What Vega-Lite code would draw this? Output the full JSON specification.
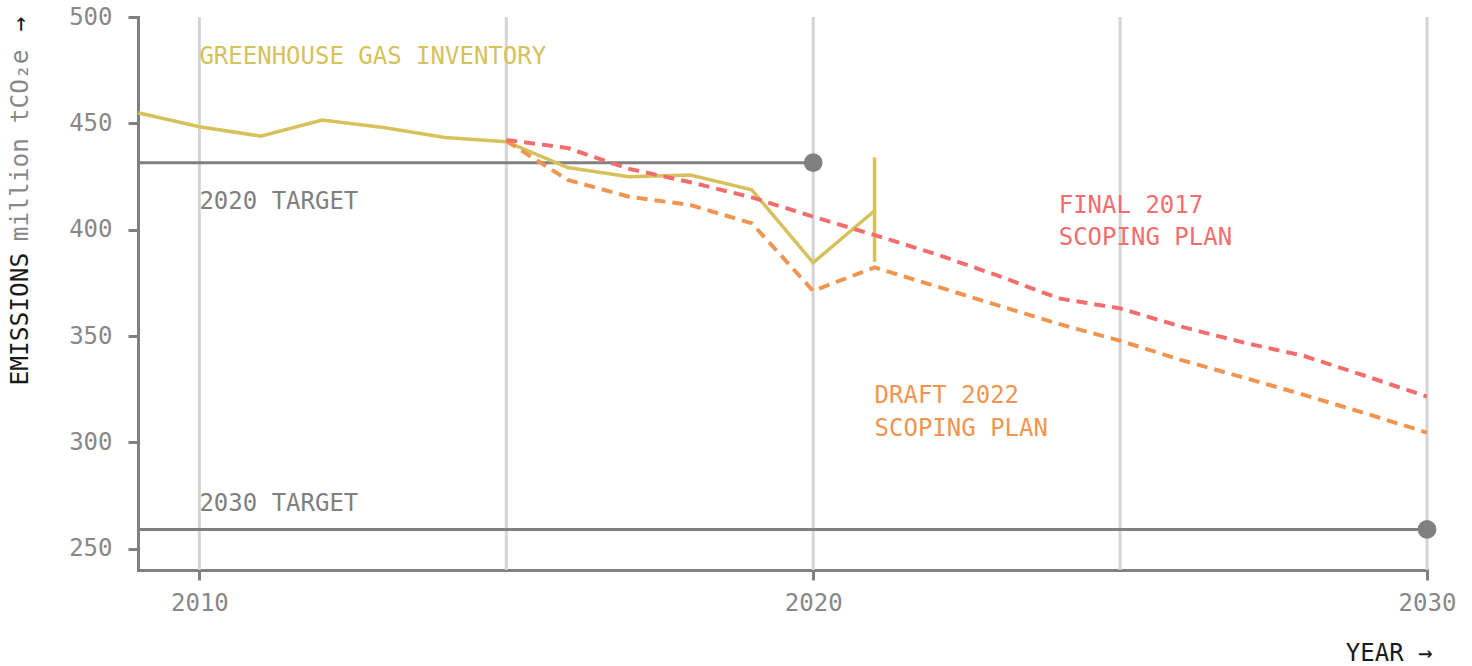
{
  "$schema": "https://vega.github.io/schema/vega-lite/v6.json",
  "width": 1289,
  "height": 553,
  "autosize": "none",
  "padding": {"left": 138, "top": 17, "right": 45, "bottom": 96},
  "background": "white",
  "config": {
    "view": {"stroke": null},
    "font": "DejaVu Sans Mono",
    "axis": {"labelFont": "DejaVu Sans Mono", "titleFont": "DejaVu Sans Mono"}
  },
  "datasets": {
    "grid": [
      {"year": 2010}, {"year": 2015}, {"year": 2020}, {"year": 2025}, {"year": 2030}
    ],
    "inventory": [
      {"year": 2009, "value": 455.0}, {"year": 2010, "value": 448.4}, {"year": 2011, "value": 444.0},
      {"year": 2012, "value": 451.6}, {"year": 2013, "value": 448.0}, {"year": 2014, "value": 443.3},
      {"year": 2015, "value": 441.4}, {"year": 2016, "value": 429.2}, {"year": 2017, "value": 424.9},
      {"year": 2018, "value": 425.7}, {"year": 2019, "value": 418.7}, {"year": 2020, "value": 384.5},
      {"year": 2021, "value": 408.9}
    ],
    "final2017": [
      {"year": 2015, "value": 442.2}, {"year": 2016, "value": 438.4}, {"year": 2017, "value": 428.6},
      {"year": 2018, "value": 422.3}, {"year": 2019, "value": 415.2}, {"year": 2020, "value": 406.1},
      {"year": 2021, "value": 397.5}, {"year": 2022, "value": 388.5}, {"year": 2023, "value": 378.5},
      {"year": 2024, "value": 367.7}, {"year": 2025, "value": 363.0}, {"year": 2026, "value": 354.4},
      {"year": 2027, "value": 347.0}, {"year": 2028, "value": 340.6}, {"year": 2029, "value": 331.2},
      {"year": 2030, "value": 321.5}
    ],
    "draft2022": [
      {"year": 2015, "value": 441.7}, {"year": 2016, "value": 423.4}, {"year": 2017, "value": 415.5},
      {"year": 2018, "value": 411.6}, {"year": 2019, "value": 403.0}, {"year": 2020, "value": 371.2},
      {"year": 2021, "value": 382.3}, {"year": 2022, "value": 373.4}, {"year": 2023, "value": 364.5},
      {"year": 2024, "value": 355.7}, {"year": 2025, "value": 347.8}, {"year": 2026, "value": 338.7},
      {"year": 2027, "value": 330.6}, {"year": 2028, "value": 322.3}, {"year": 2029, "value": 313.6},
      {"year": 2030, "value": 304.6}
    ],
    "targets": [
      {"name": "2020 target", "year": 2009, "value": 431.5},
      {"name": "2020 target", "year": 2020, "value": 431.5},
      {"name": "2030 target", "year": 2009, "value": 259.1},
      {"name": "2030 target", "year": 2030, "value": 259.1}
    ],
    "targetPoints": [
      {"name": "2020 target", "year": 2020, "value": 431.5},
      {"name": "2030 target", "year": 2030, "value": 259.1}
    ],
    "range": [
      {"year": 2021, "low": 384.9, "high": 434.0}
    ],
    "labels": [
      {"label": "GREENHOUSE GAS INVENTORY", "series": "inventory", "year": 2010, "value": 481.1},
      {"label": "2020 TARGET", "series": "target", "year": 2010, "value": 413.2},
      {"label": "2030 TARGET", "series": "target", "year": 2010, "value": 271.1},
      {"label": "FINAL 2017", "series": "final2017", "year": 2024, "value": 411.3},
      {"label": "SCOPING PLAN", "series": "final2017", "year": 2024, "value": 396.1},
      {"label": "DRAFT 2022", "series": "draft2022", "year": 2021, "value": 322.0},
      {"label": "SCOPING PLAN", "series": "draft2022", "year": 2021, "value": 306.1}
    ]
  },
  "resolve": {"axis": {"y": "independent"}},
  "layer": [
    {
      "data": {"name": "grid"},
      "mark": {"type": "rule", "color": "#d4d4d4", "strokeWidth": 3},
      "encoding": {
        "x": {
          "field": "year", "type": "quantitative",
          "scale": {"domain": [2009, 2030], "nice": false, "zero": false},
          "axis": {
            "values": [2010, 2020, 2030],
            "format": "d",
            "grid": false,
            "ticks": true, "tickSize": 10, "tickWidth": 3, "tickColor": "#808080",
            "domainColor": "#808080", "domainWidth": 3, "domainCap": "square",
            "labelColor": "#888888", "labelFontSize": 24, "labelPadding": 11,
            "labelFlush": false, "labelOverlap": false,
            "title": "YEAR →", "titleColor": "#1a1a1a", "titleFontSize": 24, "titleFontWeight": "normal",
            "titleX": 1294, "titleY": 83, "titleAlign": "right", "titleBaseline": "middle", "titleAnchor": "end"
          }
        }
      }
    },
    {
      "data": {"name": "targets"},
      "mark": {"type": "line", "color": "#808080", "strokeWidth": 3},
      "encoding": {
        "detail": {"field": "name"},
        "x": {"field": "year", "type": "quantitative", "scale": {"domain": [2009, 2030], "nice": false, "zero": false}},
        "y": {
          "field": "value", "type": "quantitative",
          "scale": {"domain": [240, 500], "nice": false, "zero": false},
          "axis": {
            "orient": "left",
            "values": [250, 300, 350, 400, 450, 500],
            "grid": false,
            "tickSize": 10, "tickWidth": 3, "tickColor": "#808080",
            "domainColor": "#808080", "domainWidth": 3, "domainCap": "square",
            "labelColor": "#888888", "labelFontSize": 24, "labelPadding": 16,
            "title": "EMISSIONS\u00a0\u00a0\u00a0\u00a0\u00a0\u00a0\u00a0\u00a0\u00a0\u00a0\u00a0\u00a0\u00a0\u00a0\u00a0→",
            "titleColor": "#1a1a1a", "titleFontSize": 24.5, "titleFontWeight": "normal",
            "titleAngle": 270, "titleAlign": "left", "titleBaseline": "middle",
            "titleX": -118, "titleY": 368
          }
        }
      }
    },
    {
      "data": {"name": "inventory"},
      "mark": {"type": "line", "color": "#d6c15a", "strokeWidth": 3.5},
      "encoding": {
        "x": {"field": "year", "type": "quantitative", "scale": {"domain": [2009, 2030], "nice": false, "zero": false}},
        "y": {
          "field": "value", "type": "quantitative",
          "scale": {"domain": [240, 500], "nice": false, "zero": false},
          "axis": {
            "orient": "left",
            "domain": false, "ticks": false, "labels": false, "grid": false,
            "title": "million tCO₂e",
            "titleColor": "#888888", "titleFontSize": 24.5, "titleFontWeight": "normal",
            "titleAngle": 270, "titleAlign": "right", "titleBaseline": "middle",
            "titleX": -118, "titleY": 32
          }
        }
      }
    },
    {
      "data": {"name": "range"},
      "mark": {"type": "rule", "color": "#d6c15a", "strokeWidth": 3.5},
      "encoding": {
        "x": {"field": "year", "type": "quantitative", "scale": {"domain": [2009, 2030], "nice": false, "zero": false}},
        "y": {"field": "low", "type": "quantitative", "scale": {"domain": [240, 500], "nice": false, "zero": false}, "axis": null},
        "y2": {"field": "high"}
      }
    },
    {
      "data": {"name": "draft2022"},
      "mark": {"type": "line", "color": "#f0954f", "strokeWidth": 4, "strokeDash": [11, 7]},
      "encoding": {
        "x": {"field": "year", "type": "quantitative", "scale": {"domain": [2009, 2030], "nice": false, "zero": false}},
        "y": {"field": "value", "type": "quantitative", "scale": {"domain": [240, 500], "nice": false, "zero": false}, "axis": null}
      }
    },
    {
      "data": {"name": "final2017"},
      "mark": {"type": "line", "color": "#f26e6e", "strokeWidth": 4, "strokeDash": [11, 7]},
      "encoding": {
        "x": {"field": "year", "type": "quantitative", "scale": {"domain": [2009, 2030], "nice": false, "zero": false}},
        "y": {"field": "value", "type": "quantitative", "scale": {"domain": [240, 500], "nice": false, "zero": false}, "axis": null}
      }
    },
    {
      "data": {"name": "targetPoints"},
      "mark": {"type": "point", "filled": true, "color": "#808080", "opacity": 1, "size": 350},
      "encoding": {
        "x": {"field": "year", "type": "quantitative", "scale": {"domain": [2009, 2030], "nice": false, "zero": false}},
        "y": {"field": "value", "type": "quantitative", "scale": {"domain": [240, 500], "nice": false, "zero": false}, "axis": null}
      }
    },
    {
      "data": {"name": "labels"},
      "mark": {"type": "text", "font": "DejaVu Sans Mono", "fontSize": 24, "align": "left", "baseline": "middle"},
      "encoding": {
        "x": {"field": "year", "type": "quantitative", "scale": {"domain": [2009, 2030], "nice": false, "zero": false}},
        "y": {"field": "value", "type": "quantitative", "scale": {"domain": [240, 500], "nice": false, "zero": false}, "axis": null},
        "text": {"field": "label"},
        "color": {
          "field": "series", "type": "nominal", "legend": null,
          "scale": {"domain": ["inventory", "final2017", "draft2022", "target"], "range": ["#d6c15a", "#f26e6e", "#f0954f", "#808080"]}
        }
      }
    }
  ]
}
